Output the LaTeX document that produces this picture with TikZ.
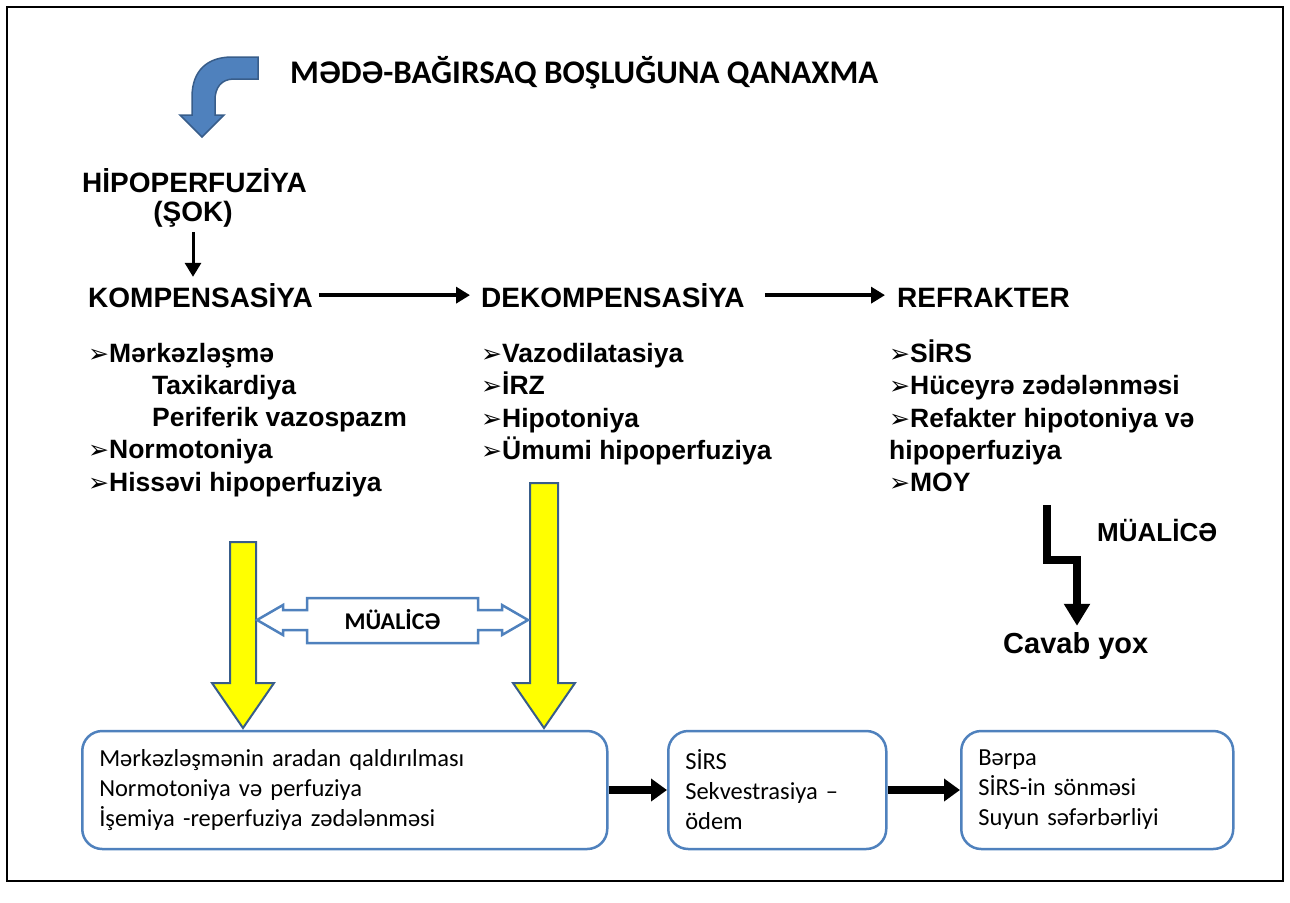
\documentclass[tikz,border=0pt]{standalone}
\usepackage{fontspec}
\setmainfont{Liberation Sans}
\newfontfamily\calibri{Carlito}
\newfontfamily\dejavu{DejaVu Sans}
\usetikzlibrary{arrows.meta}
\definecolor{offblue}{HTML}{4F81BD}
\definecolor{darkblue}{HTML}{385D8A}
\definecolor{arrowyellow}{HTML}{FFFF00}
\newcommand{\bul}{{\dejavu\fontsize{25}{25}\selectfont ➢}}
\tikzset{
  heading/.style={font=\fontsize{28}{30}\selectfont\bfseries, anchor=base west, inner sep=0pt},
  item/.style={font=\fontsize{26.5}{32}\selectfont\bfseries, anchor=base west, inner sep=0pt},
  stagebox/.style={draw=offblue, line width=2.5pt, rounded corners=20pt, fill=white,
    font=\calibri\fontsize{24.5}{30}\selectfont, align=left, minimum height=118pt,
    inner xsep=17pt, anchor=west},
  flow/.style={-{Triangle[length=14pt,width=16pt]}, line width=4pt},
  bigflow/.style={-{Triangle[length=16pt,width=22pt]}, line width=8pt},
  yellowarrow/.style={fill=arrowyellow, draw=darkblue, line width=2pt, line join=miter},
}
\begin{document}
\begin{tikzpicture}[x=1pt, y=-1pt]
  \useasboundingbox (0,0) rectangle (1290,902);
  \draw[line width=1.5pt] (7,7) rectangle (1283,881);

  % title and curved arrow
  \node[anchor=base west, inner sep=0pt, font=\calibri\fontsize{33}{36}\selectfont\bfseries]
    (title) at (290,83) {MƏDƏ-BAĞIRSAQ BOŞLUĞUNA QANAXMA};
  \filldraw[fill=offblue, draw=darkblue, line width=1.5pt]
    (258,57) -- (232,57) .. controls (208,57) and (192,70) .. (192,97) -- (192,115)
    -- (180,115) -- (202,137) -- (224,115) -- (215,115) -- (215,100)
    .. controls (215,88) and (221,79) .. (234,79) -- (258,79) -- cycle;

  \node[heading] (hipo) at (82,192) {HİPOPERFUZİYA};
  \node[heading, anchor=base] (sok) at (193,221) {(ŞOK)};

  % stages
  \node[heading] (komp) at (88,307) {KOMPENSASİYA};
  \node[heading] (dekomp) at (481,307) {DEKOMPENSASİYA};
  \node[heading] (refr) at (897,307) {REFRAKTER};
  \draw[flow, line width=3pt, shorten <=5pt, shorten >=6pt] (sok.south) -- (sok.south |- komp.north);
  \draw[flow, shorten <=6pt, shorten >=11pt] (komp.east) -- (dekomp.west);
  \draw[flow, shorten <=20pt, shorten >=12pt] (dekomp.east) -- (dekomp.east -| refr.west);

  \foreach \xx/\yy/\txt [count=\i] in {88/362/\bul Mərkəzləşmə, 152/394/Taxikardiya,
      152/426/Periferik vazospazm, 88/458/\bul Normotoniya, 88/491/\bul Hissəvi hipoperfuziya}
    \node[item] (komp\i) at (\xx,\yy) {\txt};
  \foreach \yy/\txt [count=\i] in {362/\bul Vazodilatasiya, 394/\bul İRZ,
      427/\bul Hipotoniya, 459/\bul Ümumi hipoperfuziya}
    \node[item] (dekomp\i) at (481,\yy) {\txt};
  \foreach \yy/\txt [count=\i] in {362/\bul SİRS, 394/\bul Hüceyrə zədələnməsi,
      427/\bul Refakter hipotoniya və, 459/hipoperfuziya, 491/\bul MOY}
    \node[item] (refr\i) at (889,\yy) {\txt};

  % yellow arrows and treatment
  \filldraw[yellowarrow] (230,542) -- (256,542) -- (256,683) -- (274,683) -- (243,728)
    -- (212,683) -- (230,683) -- cycle;
  \filldraw[yellowarrow] (530,483) -- (558,483) -- (558,683) -- (575,683) -- (544,728)
    -- (513,683) -- (530,683) -- cycle;
  \draw[draw=offblue, fill=white, line width=2.5pt, line join=miter]
    (257,620) -- (283,605) -- (283,610) -- (307,610) -- (307,598) -- (478,598)
    -- (478,610) -- (502,610) -- (502,605) -- (528,620) -- (502,635) -- (502,630)
    -- (478,630) -- (478,643) -- (307,643) -- (307,630) -- (283,630) -- (283,635) -- cycle;
  \node[font=\calibri\fontsize{24}{24}\selectfont\bfseries] (mua) at (392.5,620) {MÜALİCƏ};

  % refractory: no response
  \coordinate (refend) at (1047,505);
  \coordinate (bend) at (1077,560);
  \node[heading, font=\fontsize{26}{26}\selectfont\bfseries] (muar) at (1097,541) {MÜALİCƏ};
  \node[heading, font=\fontsize{29}{29}\selectfont\bfseries] (cavab) at (1003,653) {Cavab yox};
  \draw[bigflow, -{Triangle[length=22pt,width=25pt]}, line join=miter, shorten >=6pt]
    (refend) -- (refend |- bend) -- (bend) -- (bend |- cavab.north);

  % outcome boxes
  \node[stagebox, text width=491pt] (box1) at (81,790)
    {Mərkəzləşmənin aradan qaldırılması\\ Normotoniya və perfuziya\\ İşemiya -reperfuziya zədələnməsi};
  \node[stagebox, text width=184pt] (box2) at (667,790)
    {SİRS\\ Sekvestrasiya –\\ ödem};
  \node[stagebox, text width=238pt] (box3) at (960,790)
    {Bərpa\\ SİRS-in sönməsi\\ Suyun səfərbərliyi};
  \draw[bigflow] (box1) -- (box2);
  \draw[bigflow] (box2) -- (box3);
\end{tikzpicture}
\end{document}
